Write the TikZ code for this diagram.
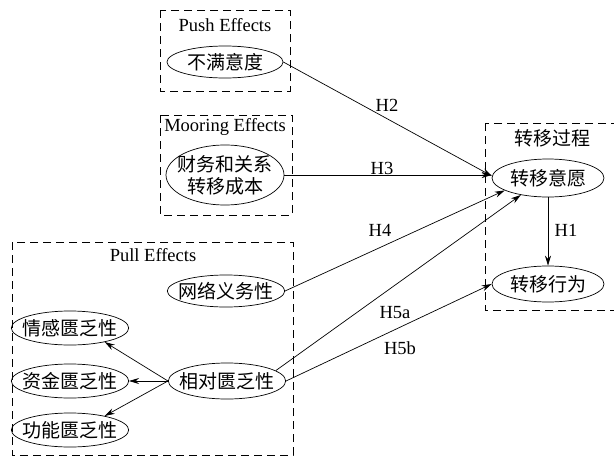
\documentclass[tikz,border=0pt]{standalone}
\usepackage{fontspec}
\setmainfont{Liberation Serif}
\newfontfamily\cjk{Noto Sans CJK SC}
\usetikzlibrary{shapes.geometric,arrows.meta}
\tikzset{
  var/.style={draw,ellipse,inner sep=-6pt,minimum width=116pt,minimum height=32pt,
    align=center,font=\cjk\fontsize{19}{22}\selectfont},
  grp/.style={draw,dash pattern=on 8pt off 5pt},
  ttl/.style={font=\fontsize{18.5}{20}\selectfont},
  hyp/.style={-{Stealth[length=10pt,width=6pt]}}
}
\begin{document}
\begin{tikzpicture}[x=1pt,y=-1pt,line width=0.7pt]
\clip (0,0) rectangle (614,461);
\fill[white] (0,0) rectangle (614,461);

% groups
\draw[grp] (160,10) rectangle (290,91);
\draw[grp] (160,115) rectangle (292,215);
\draw[grp] (12,242) rectangle (293,455);
\draw[grp] (485,123) rectangle (625,310);
\node[ttl] (tpush) at (225,25) {Push Effects};
\node[ttl] (tmoor) at (225,127) {Mooring Effects};
\node[ttl] (tpull) at (153,255) {Pull Effects};
\node[ttl,font=\cjk\fontsize{19}{22}\selectfont] (tproc) at (552,138) {转移过程};

% variables
\node[var] (bm) at (225,62) {不满意度};
\node[var,minimum width=118pt,minimum height=60pt] (cb) at (225,175) {财务和关系\\转移成本};
\node[var] (wl) at (226,291) {网络义务性};
\node[var,minimum height=36pt] (xd) at (227,381) {相对匮乏性};
\node[var,minimum width=110pt,minimum height=34pt] (qg) at (70,328) {情感匮乏性};
\node[var,minimum width=110pt,minimum height=34pt] (zj) at (70,381) {资金匮乏性};
\node[var,minimum width=110pt,minimum height=34pt] (gn) at (70,430) {功能匮乏性};
\node[var,minimum width=112pt,minimum height=38pt] (yy) at (548,178) {转移意愿};
\node[var,minimum width=112pt,minimum height=36pt] (xw) at (548,284) {转移行为};

% hypotheses
\draw[hyp] (bm.east) -- (yy.178);
\draw[hyp] (cb.east) -- (cb.east -| yy.west);
\draw[hyp] (wl.east) -- (yy.196);
\draw[hyp] (xd.12) -- (yy.212);
\draw[hyp] (xd.east) -- (xw.west);
\draw[hyp] (yy) -- (xw);
\node[ttl] (h2) at (387,105) {H2};
\node[ttl] (h3) at (382,168) {H3};
\node[ttl] (h4) at (380,230) {H4};
\node[ttl] (h5a) at (395,313) {H5a};
\node[ttl] (h5b) at (400,348) {H5b};
\node[ttl] (h1) at (566,230) {H1};

% dimensions of relative deprivation
\draw[hyp] (xd.west) -- (qg.-22);
\draw[hyp] (xd.west) -- (zj.east);
\draw[hyp] (xd.west) -- (gn.22);
\end{tikzpicture}
\end{document}
